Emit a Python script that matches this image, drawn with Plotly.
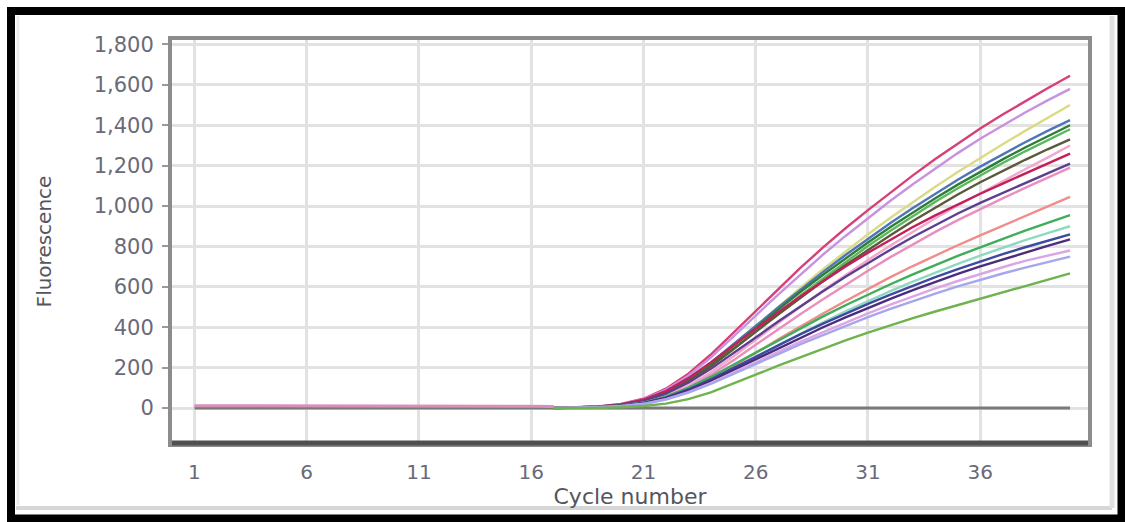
import plotly.graph_objects as go

# ---------------- data ----------------
CYCLES = list(range(1, 41))
GROWTH_CYCLES = CYCLES[16:]          # cycles 17..40
X_TICKS = [1, 6, 11, 16, 21, 26, 31, 36]
Y_TICKS = [0, 200, 400, 600, 800, 1000, 1200, 1400, 1600, 1800]
THRESHOLD = 0

BASELINE = [12, 12, 11, 12, 12, 11, 12, 12, 11, 12, 12, 11, 12, 11, 10, 9, 8]   # cycles 1..17

CURVES = [
    [0, 3, 8, 20, 46, 96, 170, 265, 372, 482, 590, 695, 795, 890, 980, 1068, 1152, 1233, 1310, 1384, 1453, 1519, 1583, 1645],
    [0, 3, 8, 19, 43, 90, 160, 250, 352, 458, 562, 663, 760, 852, 940, 1026, 1108, 1187, 1262, 1333, 1400, 1463, 1523, 1580],
    [0, 2, 6, 15, 34, 72, 132, 212, 305, 403, 500, 596, 688, 776, 860, 942, 1020, 1096, 1168, 1238, 1306, 1372, 1437, 1500],
    [0, 2, 7, 17, 39, 81, 144, 224, 313, 406, 498, 588, 674, 758, 838, 916, 990, 1062, 1130, 1195, 1257, 1316, 1372, 1425],
    [0, 2, 7, 17, 38, 79, 140, 218, 306, 397, 487, 576, 660, 742, 820, 896, 969, 1039, 1106, 1170, 1231, 1290, 1346, 1400],
    [0, 2, 6, 15, 34, 72, 130, 205, 290, 380, 470, 558, 642, 724, 802, 878, 951, 1021, 1088, 1152, 1213, 1271, 1327, 1380],
    [0, 2, 6, 15, 35, 74, 133, 207, 290, 377, 463, 548, 629, 708, 783, 856, 926, 993, 1057, 1118, 1175, 1229, 1281, 1330],
    [0, 1, 5, 12, 28, 60, 110, 177, 255, 338, 421, 503, 582, 659, 733, 805, 874, 940, 1003, 1064, 1124, 1182, 1240, 1300],
    [0, 2, 7, 18, 41, 84, 148, 226, 310, 394, 475, 554, 629, 701, 769, 834, 896, 954, 1009, 1061, 1111, 1160, 1210, 1260],
    [0, 2, 6, 15, 34, 71, 126, 194, 270, 349, 428, 505, 578, 650, 718, 784, 847, 907, 963, 1016, 1066, 1114, 1162, 1210],
    [0, 1, 4, 11, 26, 55, 102, 164, 236, 313, 390, 466, 539, 611, 680, 747, 811, 872, 930, 985, 1038, 1090, 1140, 1190],
    [0, 1, 4, 10, 23, 49, 90, 144, 207, 273, 340, 405, 468, 530, 590, 648, 703, 756, 806, 855, 903, 951, 998, 1045],
    [0, 2, 5, 12, 27, 56, 100, 154, 214, 276, 337, 397, 454, 509, 562, 613, 662, 709, 753, 796, 838, 878, 917, 955],
    [0, 1, 4, 9, 21, 45, 83, 133, 190, 250, 310, 369, 425, 479, 530, 579, 626, 671, 714, 755, 794, 831, 866, 900],
    [0, 2, 5, 11, 25, 52, 92, 142, 198, 255, 311, 366, 418, 468, 516, 562, 606, 648, 688, 726, 762, 796, 829, 860],
    [0, 1, 4, 10, 23, 49, 87, 135, 188, 243, 297, 350, 400, 449, 496, 541, 584, 625, 664, 701, 736, 770, 803, 835],
    [0, 1, 4, 9, 21, 44, 79, 124, 174, 226, 278, 329, 377, 424, 469, 512, 553, 592, 629, 664, 697, 729, 755, 780],
    [0, 1, 4, 9, 20, 42, 76, 119, 167, 217, 267, 316, 362, 407, 450, 491, 530, 567, 602, 635, 666, 695, 723, 750],
    [0, 0, 1, 4, 10, 22, 44, 78, 120, 165, 210, 253, 295, 335, 373, 410, 445, 478, 510, 541, 572, 603, 635, 667],
]

COLORS = ['#d6407a', '#c792e0', '#d9dc84', '#4f74b8', '#2f7d3a', '#5cb85c', '#5a5a3a',
          '#f2a7cc', '#c21f5b', '#5d3f8f', '#e88fbf', '#f08c8c', '#3fae5a', '#8fd9c0',
          '#3e4aa0', '#4b2c7e', '#dba6e3', '#a6a6ec', '#6fb34f']

# ---------------- figure ----------------
fig = go.Figure()

fig.add_trace(go.Scatter(x=[CYCLES[0], CYCLES[-1]], y=[THRESHOLD, THRESHOLD], mode='lines',
                         line=dict(color='#7a7a7a', width=3), hoverinfo='skip', showlegend=False))

for vals, col in zip(CURVES, COLORS):
    fig.add_trace(go.Scatter(x=GROWTH_CYCLES, y=vals, mode='lines',
                             line=dict(color=col, width=2.4), showlegend=False))

fig.add_trace(go.Scatter(x=CYCLES[:17], y=BASELINE, mode='lines',
                         line=dict(color='#d98fb8', width=3), showlegend=False))

# plot area in pixels: x 172..1088, y 40..443
def px(x):
    return (x - 172) / 916.0

def py(y):
    return (443 - y) / 403.0

shapes = [
    # outer black frame
    dict(type='rect', xref='paper', yref='paper', x0=px(11), x1=px(1121.5), y0=py(518.5), y1=py(11),
         line=dict(color='black', width=8), layer='above'),
    # light inner shading
    dict(type='line', xref='paper', yref='paper', x0=px(16), x1=px(1112), y0=py(508), y1=py(508),
         line=dict(color='#d6d6d6', width=4), layer='below'),
    dict(type='line', xref='paper', yref='paper', x0=px(1112), x1=px(1112), y0=py(508), y1=py(16),
         line=dict(color='#e2e2e2', width=5), layer='below'),
    dict(type='line', xref='paper', yref='paper', x0=px(18), x1=px(18), y0=py(505), y1=py(16),
         line=dict(color='#ececec', width=3), layer='below'),
    # darker bottom axis line
    dict(type='line', xref='paper', yref='paper', x0=0, x1=1, y0=0, y1=0,
         line=dict(color='#505050', width=5), layer='above'),
]

fig.update_layout(
    width=1125, height=522,
    margin=dict(l=172, r=37, t=40, b=79),
    paper_bgcolor='white', plot_bgcolor='white',
    shapes=shapes,
    showlegend=False,
    font=dict(family='DejaVu Sans', color='#6a6a78'),
)

fig.update_xaxes(
    range=[0, 40.8], tickvals=X_TICKS, ticktext=[str(t) for t in X_TICKS],
    showgrid=True, gridcolor='#e2e2e2', gridwidth=3,
    showline=True, linecolor='#8c8c8c', linewidth=4, mirror=True,
    ticks='', zeroline=False,
    tickfont=dict(size=20, color='#6a6a78'),
    ticklabelstandoff=8,
    title=dict(text='Cycle number', font=dict(size=22, color='#555560'), standoff=4),
)

fig.update_yaxes(
    range=[-173, 1822], tickvals=Y_TICKS, tickformat=',d',
    showgrid=True, gridcolor='#e2e2e2', gridwidth=3,
    showline=True, linecolor='#8c8c8c', linewidth=4, mirror=True,
    ticks='outside', ticklen=6, tickcolor='#9a9a9a', tickwidth=2,
    zeroline=False,
    tickfont=dict(size=21, color='#6a6a78'),
    ticklabelstandoff=4,
    title=dict(text='Fluorescence', font=dict(size=20, color='#555560'), standoff=38),
)

fig.write_html('out.html', config={'displayModeBar': False},
               post_script="document.body.style.margin='0px';")
